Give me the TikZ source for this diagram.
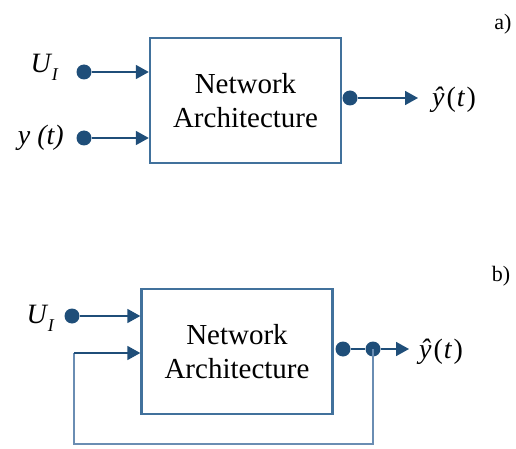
\documentclass[tikz,border=0pt]{standalone}
\usepackage{fontspec}
\setmainfont{Liberation Serif}
\usetikzlibrary{arrows.meta}
\definecolor{ln}{HTML}{1F4E79}
\definecolor{bx}{HTML}{41719C}
\definecolor{fb}{HTML}{6A8DB3}
\tikzset{
  netbox/.style={draw=bx,line width=2.4pt,minimum width=191pt,minimum height=125pt,inner sep=0pt,align=center,font=\fontsize{29}{34}\selectfont},
  dot/.style={circle,fill=ln,inner sep=0pt,minimum size=15pt},
  conn/.style={draw=ln,line width=1.8pt,-{Triangle[length=13pt,width=14pt]}},
  fbline/.style={draw=fb,line width=1.6pt},
  lab/.style={font=\fontsize{28}{32}\selectfont\itshape,inner sep=0pt},
  outlab/.style={font=\fontsize{28}{32}\selectfont,inner sep=0pt},
  tag/.style={font=\fontsize{22}{26}\selectfont}
}
\newcommand{\yhatt}{{\itshape ŷ}\kern2pt(\kern1pt{\itshape t}\kern2pt)}
\newcommand{\uone}{U\kern1pt\raisebox{-8pt}{\fontsize{18}{20}\selectfont I}}
\begin{document}
\begin{tikzpicture}[x=1pt,y=-1pt]
\useasboundingbox (0,0) rectangle (516,449);
% ---- a) ----
\node[netbox] (A) at (245.5,100.5) {Network\\Architecture};
\node[dot] (a1) at (84,72) {};
\node[dot] (a2) at (84,138) {};
\node[dot] (ao) at (350,98) {};
\coordinate (a1e) at (A.west |- a1);
\coordinate (a2e) at (A.west |- a2);
\coordinate (aoe) at (418,98);
\draw[conn] (a1) -- (a1e);
\draw[conn] (a2) -- (a2e);
\draw[conn] (ao) -- (aoe);
\node[lab,anchor=base east] (la1) at (58,73) {\uone};
\node[lab,anchor=base east] (la2) at (64,145) {y (t)};
\node[outlab,anchor=base west] (lao) at (432,107) {\yhatt};
\node[tag] (ta) at (503,24) {a)};
% ---- b) ----
\node[netbox] (B) at (237,351.5) {Network\\Architecture};
\node[dot] (b1) at (72,316) {};
\node[dot] (bo) at (343,349) {};
\node[dot] (bj) at (373,349) {};
\coordinate (b1e) at (B.west |- b1);
\coordinate (boe) at (409,349);
\coordinate (fbin) at (B.west |- 0,353);
\coordinate (c1) at (373,444);
\coordinate (c2) at (74,444);
\coordinate (c3) at (74,353);
\draw[conn] (b1) -- (b1e);
\draw[draw=ln,line width=1.8pt] (bo) -- (bj);
\draw[conn] (bj) -- (boe);
\draw[fbline] (bj.center) -- (c1) -- (c2) -- (c3);
\draw[conn] (c3) -- (fbin);
\node[lab,anchor=base east] (lb1) at (54,323) {\uone};
\node[outlab,anchor=base west] (lbo) at (419,358) {\yhatt};
\node[tag] (tb) at (501,276) {b)};
\end{tikzpicture}
\end{document}
